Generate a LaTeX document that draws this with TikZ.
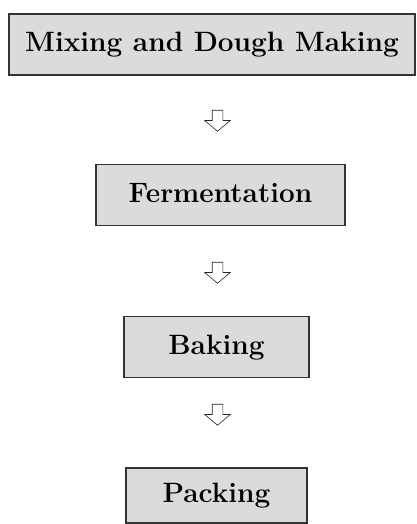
\documentclass[tikz,border=0pt]{standalone}
\usepackage{tikz}
\usetikzlibrary{shapes.arrows}

\tikzset{
  stepbox/.style={draw=black!80,line width=1.5pt,fill=black!14,inner sep=0pt,
    minimum height=61pt,text height=20pt,text depth=6pt,
    font=\fontsize{28}{31}\selectfont\bfseries},
  downarrow/.style={single arrow,draw=black!85,line width=0.6pt,fill=white,
    shape border rotate=270,inner sep=5pt,minimum height=21pt,minimum width=0pt,
    single arrow head extend=7.5pt,single arrow tip angle=100}
}

\begin{document}
\begin{tikzpicture}[x=1pt,y=-1pt]
\useasboundingbox (0,0) rectangle (417,524);
\node[stepbox,minimum width=406pt] (mix) at (212,44.5) {Mixing and Dough Making};
\node[stepbox,minimum width=249pt] (ferm) at (220.5,195) {Fermentation};
\node[stepbox,minimum width=185pt] (bake) at (216.5,347) {Baking};
\node[stepbox,minimum width=181pt,minimum height=55pt] (pack) at (216.5,495.5) {Packing};
\node[downarrow] (a1) at (217.5,118.5) {};
\node[downarrow] (a2) at (217.5,270.5) {};
\node[downarrow] (a3) at (217.5,412.5) {};
\end{tikzpicture}
\end{document}
